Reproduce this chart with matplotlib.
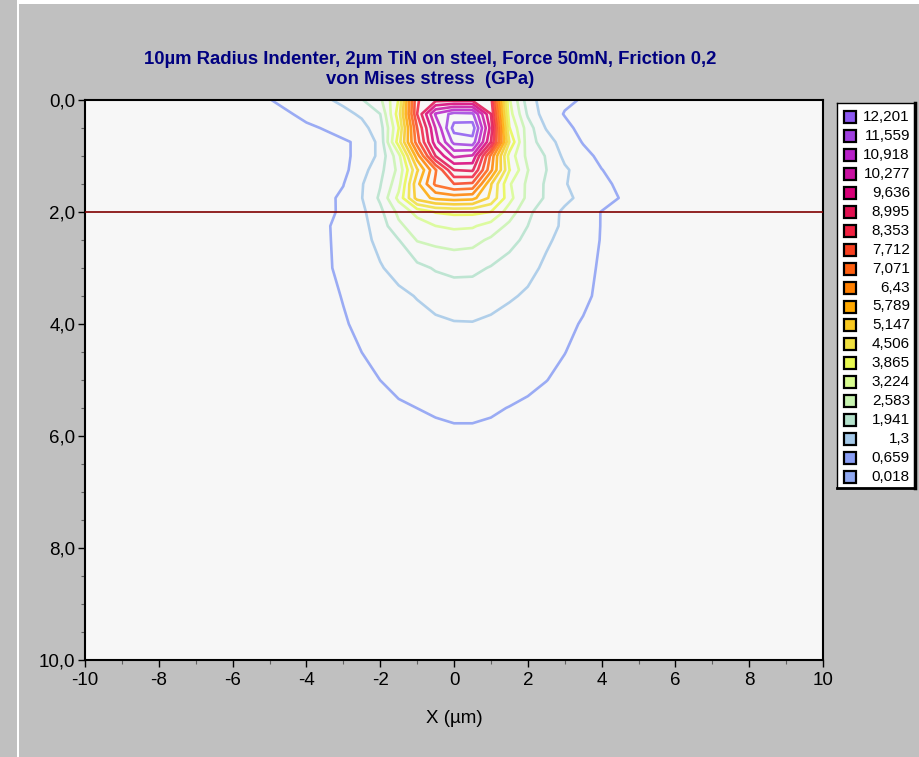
import numpy as np
import matplotlib
matplotlib.use("Agg")
from matplotlib import pyplot as plt
from matplotlib.patches import Rectangle
from matplotlib.ticker import MultipleLocator, FuncFormatter

# grid nodes of the stress map (µm)
x_nodes = [-10, -6, -5, -4, -3.5, -3, -2.5, -2, -1.5, -1, -0.5, 0, 0.5, 1, 1.5, 2, 2.5, 3, 3.5, 4, 4.5, 5, 6, 10]
y_nodes = [0, 0.25, 0.5, 0.75, 1.0, 1.25, 1.5, 1.75, 2.0, 2.25, 2.5, 3.0, 3.5, 4.0, 4.5, 5.0, 5.5, 6.0, 7.0, 10.0]

# von Mises stress (GPa), one list per depth
s_y000 = [0.15, 0.3, 0.64, 1.0, 1.2, 1.45, 1.9, 2.45, 3.9, 8.3, 8.8, 8.85, 8.85, 8.6, 3.3, 1.6, 0.95, 0.75, 0.62, 0.5, 0.42, 0.35, 0.28, 0.12]
s_y025 = [0.14, 0.28, 0.5, 0.75, 0.95, 1.12, 1.4, 1.94, 4.2, 8.35, 11.0, 11.8, 11.7, 9.0, 3.5, 1.85, 0.95, 0.63, 0.52, 0.45, 0.38, 0.33, 0.26, 0.12]
s_y050 = [0.13, 0.27, 0.42, 0.6, 0.68, 0.85, 1.1, 1.65, 3.85, 7.7, 10.3, 12.45, 12.55, 9.4, 3.9, 2.25, 1.25, 0.8, 0.5, 0.45, 0.38, 0.32, 0.25, 0.12]
s_y075 = [0.12, 0.25, 0.38, 0.5, 0.55, 0.6, 0.75, 1.5, 4.2, 7.4, 10.0, 11.75, 11.95, 9.0, 4.5, 2.2, 1.65, 0.95, 0.63, 0.5, 0.42, 0.35, 0.26, 0.12]
s_y100 = [0.12, 0.25, 0.35, 0.46, 0.5, 0.6, 0.75, 1.5, 3.0, 6.1, 9.0, 10.4, 10.2, 6.9, 3.6, 2.4, 1.9, 1.15, 0.8, 0.55, 0.45, 0.37, 0.27, 0.12]
s_y125 = [0.12, 0.24, 0.33, 0.4, 0.45, 0.5, 1.05, 1.75, 2.75, 5.05, 7.0, 9.0, 9.1, 6.6, 3.9, 2.6, 1.95, 1.4, 1.0, 0.67, 0.5, 0.4, 0.28, 0.12]
s_y150 = [0.12, 0.23, 0.32, 0.42, 0.5, 0.64, 1.25, 1.9, 3.0, 5.6, 7.2, 7.7, 7.6, 5.2, 3.3, 2.45, 1.85, 1.35, 1.0, 0.8, 0.55, 0.42, 0.3, 0.12]
s_y175 = [0.11, 0.22, 0.3, 0.42, 0.52, 0.76, 1.28, 2.05, 3.4, 5.4, 5.95, 6.1, 6.0, 5.0, 3.45, 2.4, 1.85, 1.45, 1.13, 0.9, 0.64, 0.45, 0.3, 0.11]
s_y200 = [0.11, 0.2, 0.35, 0.5, 0.6, 0.7, 1.16, 1.78, 2.74, 3.44, 3.9, 4.0, 4.0, 3.86, 2.9, 2.08, 1.57, 1.19, 0.92, 0.64, 0.5, 0.4, 0.25, 0.1]
s_y225 = [0.1, 0.2, 0.35, 0.5, 0.6, 0.8, 1.12, 1.59, 2.45, 2.9, 3.22, 3.34, 3.3, 2.96, 2.44, 1.94, 1.5, 1.2, 0.9, 0.64, 0.5, 0.4, 0.25, 0.1]
s_y250 = [0.1, 0.2, 0.34, 0.5, 0.6, 0.78, 1.1, 1.47, 1.92, 2.62, 2.76, 2.85, 2.78, 2.48, 2.15, 1.78, 1.37, 1.16, 0.9, 0.63, 0.49, 0.39, 0.25, 0.1]
s_y300 = [0.1, 0.2, 0.35, 0.48, 0.57, 0.79, 1.02, 1.25, 1.51, 1.77, 2.0, 2.1, 2.08, 1.9, 1.67, 1.44, 1.21, 1.0, 0.79, 0.6, 0.48, 0.38, 0.25, 0.1]
s_y350 = [0.1, 0.2, 0.33, 0.45, 0.54, 0.68, 0.85, 1.01, 1.17, 1.33, 1.5, 1.63, 1.63, 1.5, 1.36, 1.23, 1.05, 0.9, 0.73, 0.58, 0.46, 0.37, 0.24, 0.1]
s_y400 = [0.1, 0.19, 0.32, 0.42, 0.5, 0.62, 0.75, 0.88, 1.0, 1.1, 1.2, 1.26, 1.27, 1.2, 1.1, 0.98, 0.86, 0.74, 0.63, 0.52, 0.43, 0.36, 0.24, 0.1]
s_y450 = [0.1, 0.19, 0.3, 0.4, 0.46, 0.55, 0.66, 0.77, 0.87, 0.96, 1.03, 1.08, 1.08, 1.04, 0.97, 0.88, 0.77, 0.665, 0.57, 0.48, 0.41, 0.35, 0.23, 0.1]
s_y500 = [0.1, 0.18, 0.28, 0.37, 0.42, 0.5, 0.58, 0.66, 0.74, 0.8, 0.86, 0.9, 0.9, 0.87, 0.81, 0.74, 0.665, 0.59, 0.52, 0.45, 0.39, 0.33, 0.23, 0.1]
s_y550 = [0.1, 0.18, 0.26, 0.34, 0.38, 0.44, 0.5, 0.56, 0.62, 0.66, 0.7, 0.73, 0.73, 0.7, 0.65, 0.6, 0.55, 0.5, 0.45, 0.4, 0.35, 0.31, 0.22, 0.1]
s_y600 = [0.1, 0.17, 0.24, 0.3, 0.33, 0.37, 0.41, 0.46, 0.5, 0.54, 0.58, 0.6, 0.6, 0.58, 0.54, 0.5, 0.46, 0.42, 0.38, 0.34, 0.3, 0.27, 0.2, 0.1]
s_y700 = [0.09, 0.15, 0.2, 0.24, 0.27, 0.3, 0.33, 0.37, 0.4, 0.43, 0.45, 0.46, 0.46, 0.45, 0.42, 0.39, 0.36, 0.33, 0.3, 0.27, 0.24, 0.22, 0.17, 0.09]
s_y1000 = [0.06, 0.1, 0.12, 0.14, 0.15, 0.16, 0.17, 0.18, 0.19, 0.2, 0.2, 0.2, 0.2, 0.2, 0.19, 0.18, 0.17, 0.16, 0.15, 0.14, 0.13, 0.12, 0.1, 0.06]

levels = [0.018, 0.659, 1.3, 1.941, 2.583, 3.224, 3.865, 4.506, 5.147, 5.789,
          6.43, 7.071, 7.712, 8.353, 8.995, 9.636, 10.277, 10.918, 11.559, 12.201]
level_colors = ['#90a8f0', '#8a9ef4', '#a4c8e8', '#b4e2cc', '#c8f4b0', '#d8fc90',
                '#e8f850', '#f0e040', '#f8c820', '#ffa800', '#ff8000', '#ff6010',
                '#f84020', '#f02040', '#e01050', '#d80078', '#c810a0', '#b820c8',
                '#a040e0', '#8c58f0']

title_lines = ["10µm Radius Indenter, 2µm TiN on steel, Force 50mN, Friction 0,2",
               "von Mises stress  (GPa)"]
film_thickness = 2.0

stress = np.array([s_y000, s_y025, s_y050, s_y075, s_y100, s_y125, s_y150, s_y175,
                   s_y200, s_y225, s_y250, s_y300, s_y350, s_y400, s_y450, s_y500,
                   s_y550, s_y600, s_y700, s_y1000])

plt.rcParams['font.family'] = ['Liberation Sans', 'DejaVu Sans']
plt.rcParams['axes.unicode_minus'] = False

W, H = 919, 757
fig = plt.figure(figsize=(W / 100, H / 100), dpi=100, facecolor='#c0c0c0')

# bevel highlight of the panel
fig.add_artist(Rectangle((17 / W, 0), 2 / W, 1, transform=fig.transFigure, color='white', lw=0))
fig.add_artist(Rectangle((17 / W, 1 - 4 / H), 1, 4 / H, transform=fig.transFigure, color='white', lw=0))

ax = fig.add_axes([85 / W, 97 / H, 738 / W, 560 / H])
ax.set_facecolor('#f7f7f7')
ax.contour(x_nodes, y_nodes, stress, levels=levels, colors=level_colors,
           linewidths=1.9, alpha=0.85)
ax.axhline(film_thickness, color='#800000', lw=1.2, zorder=5)

ax.set_xlim(-10, 10)
ax.set_ylim(10, 0)
ax.xaxis.set_major_locator(MultipleLocator(2))
ax.xaxis.set_minor_locator(MultipleLocator(1))
ax.yaxis.set_major_locator(MultipleLocator(2))
ax.yaxis.set_minor_locator(MultipleLocator(0.5))
ax.yaxis.set_major_formatter(FuncFormatter(lambda v, p: f"{v:.1f}".replace('.', ',')))
ax.tick_params(which='major', length=5, width=1, labelsize=13.5, direction='out')
ax.tick_params(axis='y', which='major', pad=2)
ax.tick_params(which='minor', length=3, width=0.8, color='#606060')
for s in ax.spines.values():
    s.set_linewidth(1.5)
ax.set_xlabel("X (µm)", fontsize=13.5, labelpad=15)

fig.text(430 / W, 1 - 60 / H, title_lines[0], ha='center', va='center',
         fontsize=13.3, fontweight='bold', color='#000080')
fig.text(430 / W, 1 - 80 / H, title_lines[1], ha='center', va='center',
         fontsize=13.3, fontweight='bold', color='#000080')

# legend box with right aligned values, highest level on top
lg = fig.add_axes([837 / W, 1 - 488 / H, 78 / W, 385 / H])
lg.set_xlim(0, 78)
lg.set_ylim(385, 0)
lg.set_xticks([])
lg.set_yticks([])
lg.set_facecolor('white')
for s in lg.spines.values():
    s.set_linewidth(1.0)
lg.spines['right'].set_linewidth(2.5)
lg.spines['bottom'].set_linewidth(2.0)
for i, (lev, col) in enumerate(zip(levels[::-1], level_colors[::-1])):
    yc = 14 + i * 18.95
    lg.add_patch(Rectangle((7, yc - 6), 12, 12, facecolor=col, edgecolor='black', lw=1.6))
    lg.text(73, yc, f"{lev:g}".replace('.', ','), ha='right', va='center', fontsize=11)

fig.savefig("out.png", dpi=100, facecolor=fig.get_facecolor())
